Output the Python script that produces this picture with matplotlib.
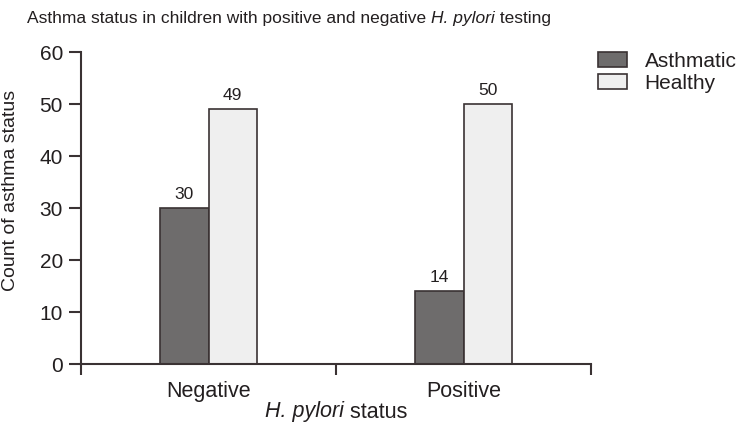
import numpy as np
import matplotlib
matplotlib.use("Agg")
import matplotlib.pyplot as plt

plt.rcParams['font.family'] = ['Liberation Sans', 'DejaVu Sans']

categories = ['Negative', 'Positive']
asthmatic = [30, 14]
healthy = [49, 50]
series_names = ['Asthmatic', 'Healthy']

ink = '#3a3233'
txtc = '#231f20'
fig = plt.figure(figsize=(7.44, 4.34), dpi=100)
ax = fig.add_axes([81 / 744, 70 / 434, 510 / 744, 312 / 434])

x = np.arange(len(categories))
w = 0.19
b1 = ax.bar(x - w / 2, asthmatic, w, color='#6e6c6c', edgecolor=ink, linewidth=1.2, label=series_names[0])
b2 = ax.bar(x + w / 2, healthy, w, color='#efefef', edgecolor=ink, linewidth=1.2, label=series_names[1])
for bars in (b1, b2):
    for r in bars:
        ax.text(r.get_x() + r.get_width() / 2, r.get_height() + 1.1, f"{int(r.get_height())}",
                ha='center', va='bottom', fontsize=12.5, color=txtc)

ax.set_xlim(-0.5, 1.5)
ax.set_ylim(0, 60)
ax.set_yticks(range(0, 61, 10))
ax.set_xticks([-0.5, 0.5, 1.5])
ax.set_xticklabels([])
ax.set_xticks(x, minor=True)
ax.set_xticklabels(categories, minor=True)
ax.tick_params(axis='x', which='minor', length=0, pad=12, labelsize=15.5, colors=txtc)
ax.tick_params(axis='x', which='major', length=8, width=1.5, color=ink)
ax.tick_params(axis='y', length=9, width=1.5, color=ink, labelsize=15, labelcolor=txtc, pad=4)

for s in ['top', 'right']:
    ax.spines[s].set_visible(False)
for s in ['left', 'bottom']:
    ax.spines[s].set_color(ink)
    ax.spines[s].set_linewidth(1.5)

ax.set_ylabel('Count of asthma status', fontsize=14, color=txtc, va='center')
ax.yaxis.set_label_coords(-70 / 510, (364 - 190) / 312)

# x label with italic genus name
fig.text(336 / 744, 1 - 412 / 434, 'H. pylori', style='italic', ha='right', va='center', fontsize=15.5, color=txtc)
fig.text(336 / 744, 1 - 412 / 434, ' status', ha='left', va='center', fontsize=15.5, color=txtc)
fig.canvas.draw()
parts = fig.texts[-2:]
wtot = sum(p.get_window_extent().width for p in parts)
shift = (wtot / 2 - parts[0].get_window_extent().width) / 744
for p in parts:
    px, py = p.get_position()
    p.set_position((px - shift, py))

# title with italic part
t1 = fig.text(27 / 744, 1 - 18 / 434, 'Asthma status in children with positive and negative ', ha='left', va='center',
              fontsize=12.5, color=txtc)
fig.canvas.draw()
bb = t1.get_window_extent()
t2 = fig.text(bb.x1 / 744, 1 - 18 / 434, 'H. pylori', style='italic', ha='left', va='center', fontsize=12.5, color=txtc)
fig.canvas.draw()
bb2 = t2.get_window_extent()
fig.text(bb2.x1 / 744, 1 - 18 / 434, ' testing', ha='left', va='center', fontsize=12.5, color=txtc)

leg = fig.legend(handles=[b1, b2], labels=series_names, loc='upper left', bbox_to_anchor=(581 / 744, 1 - 35 / 434),
                 frameon=False, fontsize=15, handlelength=1.4, handleheight=0.75, labelspacing=0.15,
                 handletextpad=0.85, borderpad=0.3)
for txt in leg.get_texts():
    txt.set_color(txtc)

fig.savefig('out.png', dpi=100)
